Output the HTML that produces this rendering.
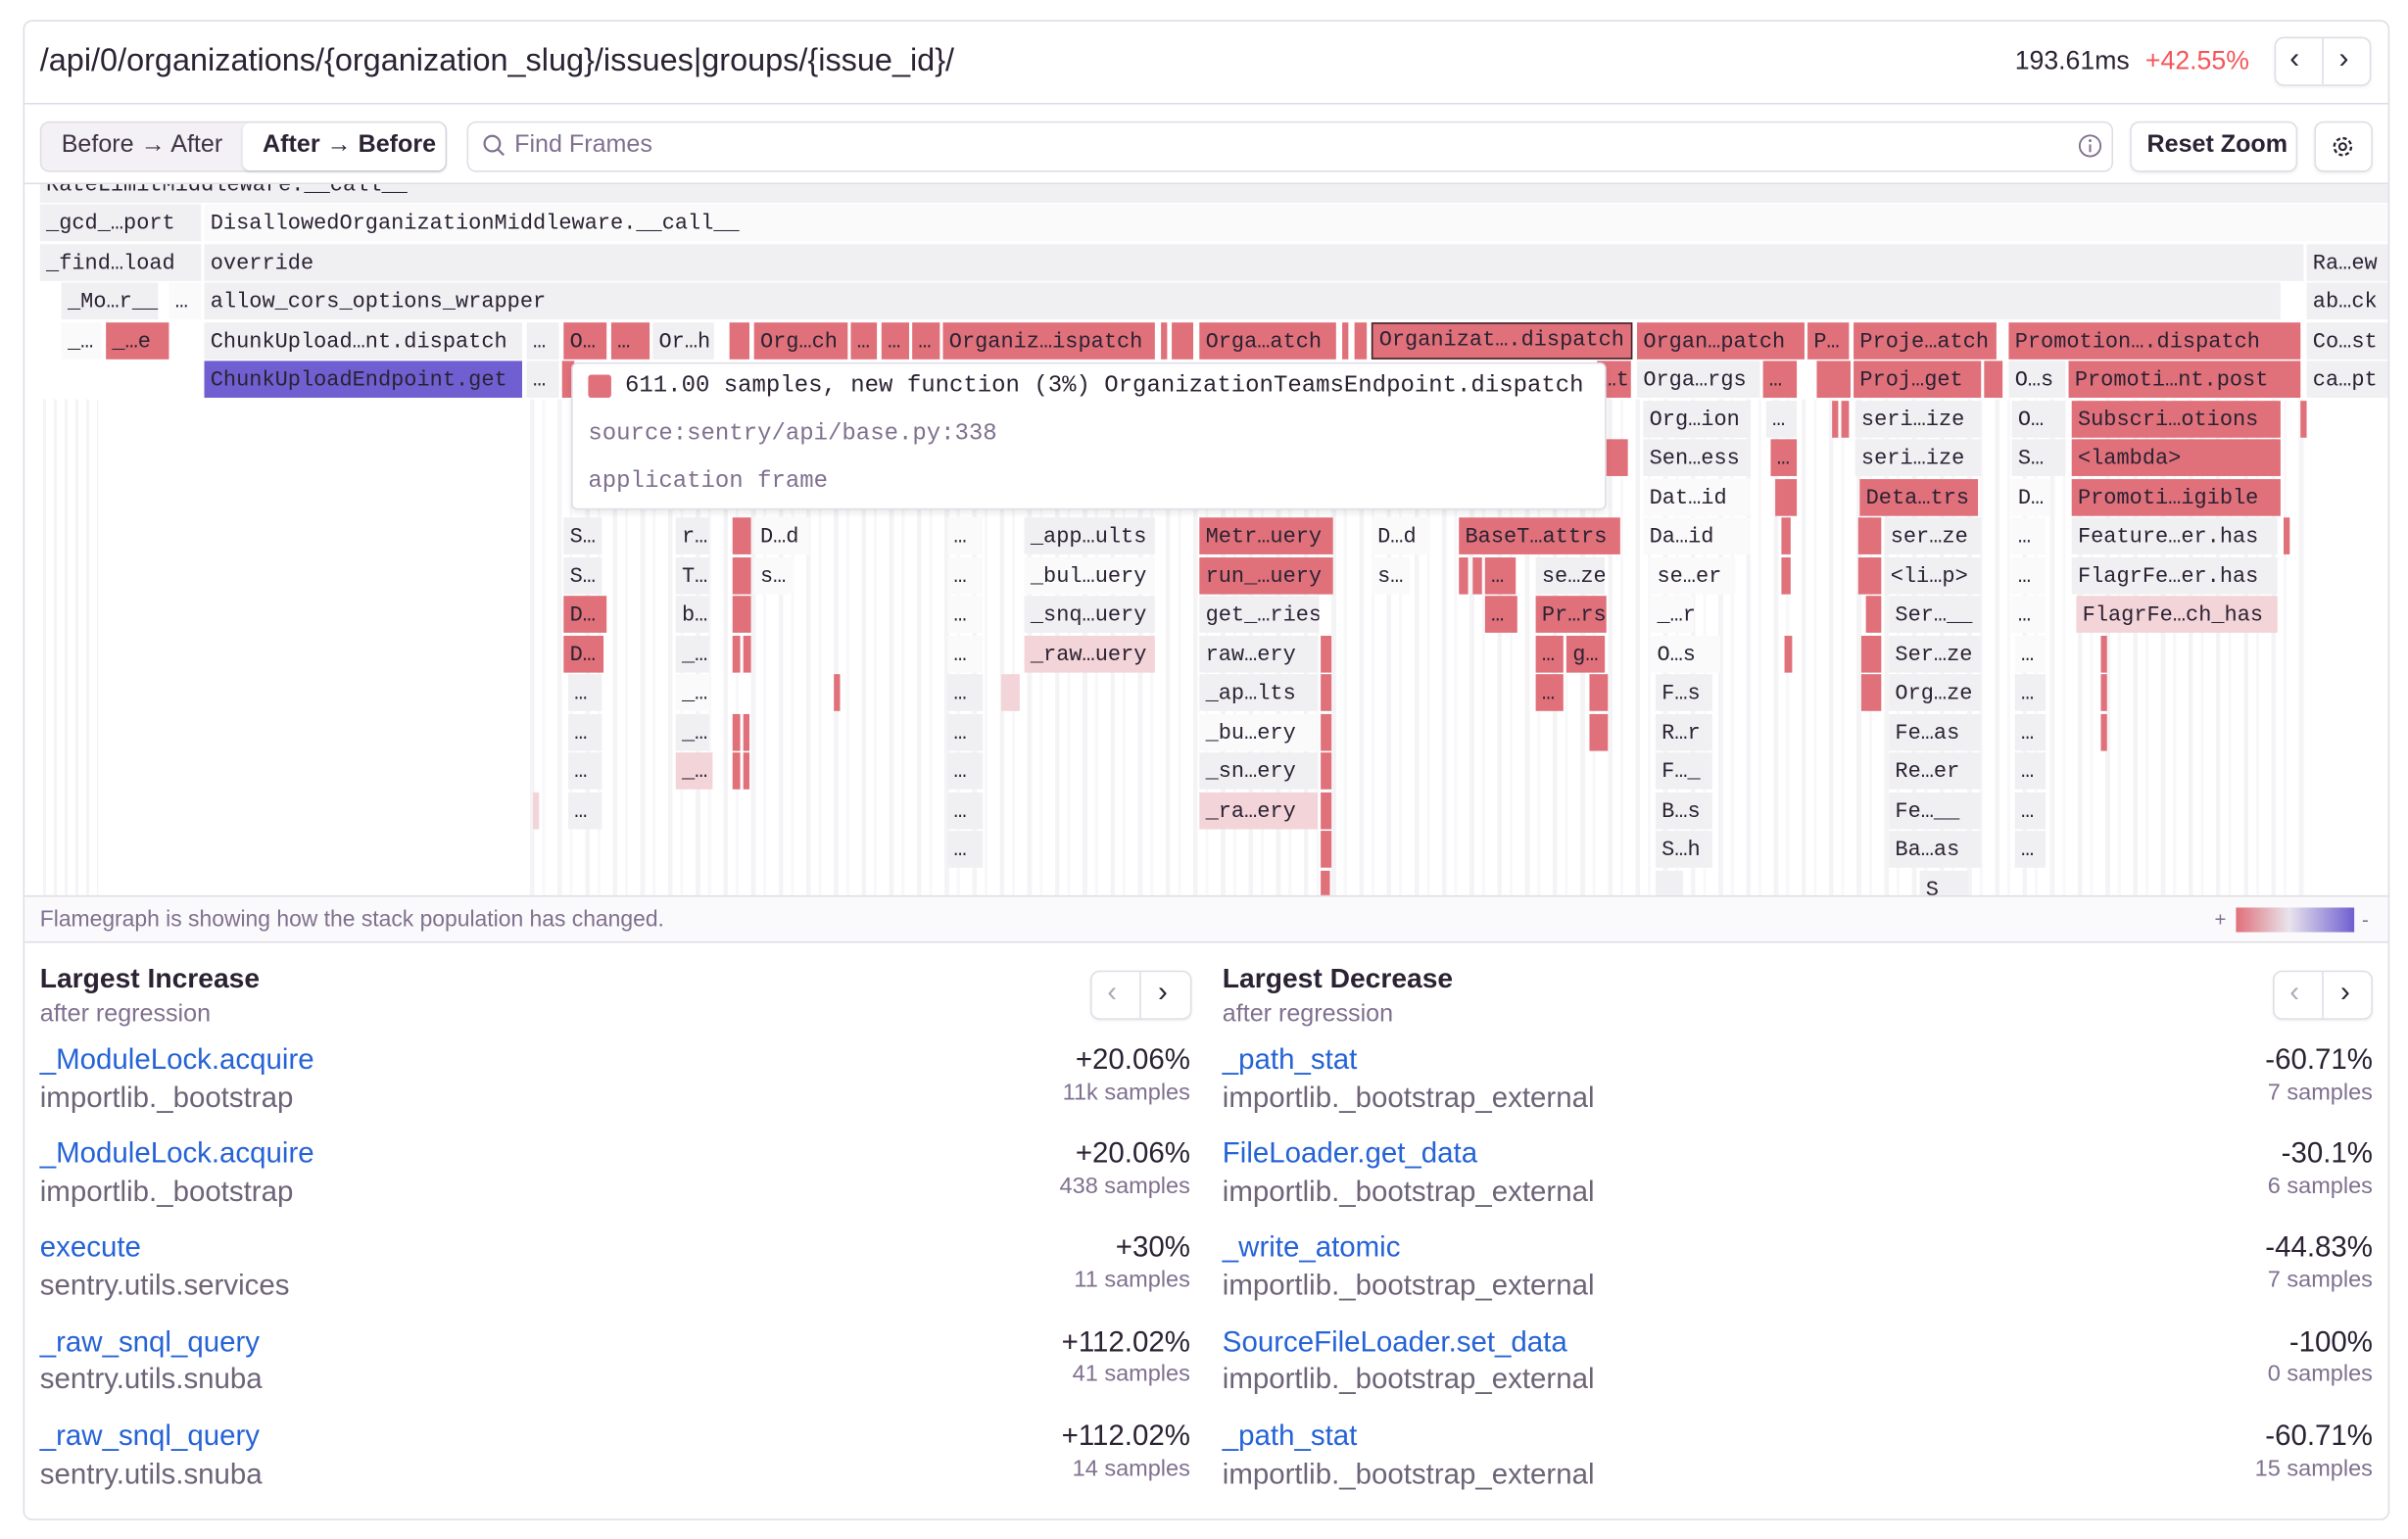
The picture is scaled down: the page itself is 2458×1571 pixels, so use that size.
<!DOCTYPE html>
<html><head><meta charset="utf-8">
<style>
*{margin:0;padding:0;box-sizing:border-box}
body{width:2458px;height:1570px;overflow:hidden;background:#fff;font-family:"Liberation Sans",sans-serif;color:#2b2233}
#s{position:absolute;left:0;top:0;width:1568px;height:1002px;transform:scale(1.5676);transform-origin:0 0}
.a{position:absolute}
.card{position:absolute;left:15px;top:13px;width:1541px;height:977px;border:1px solid #e0dce5;border-radius:6px;overflow:hidden}
.btn{position:absolute;border:1px solid #e0dce5;border-radius:6px;background:#fff;box-shadow:0 1px 2px rgba(0,0,0,.06)}
.fw{position:absolute;left:0;top:120px;width:1556px;height:463px;overflow:hidden}
.fi{position:absolute;left:0;top:-120px;width:1556px;height:600px}
.b{position:absolute;height:24px;font:14px "Liberation Mono",monospace;line-height:26px;color:#2b2233;padding-left:4px;overflow:hidden;white-space:nowrap}
.r{background:#e0707a}.g{background:#f0f0f3}.w{background:#fafafb}.p{background:#f3d4d8}.u{background:#6f5fd0}
.t{position:absolute;font-size:18.8px;white-space:nowrap}
.lk{color:#2563d6}.md{color:#6e6478}.sm{font-size:15px;color:#80708f}
</style></head><body><div id="s">
<div class="card"></div>
<!-- header -->
<div class="t" style="left:26px;top:28px;font-size:20.7px;color:#2b2233">/api/0/organizations/{organization_slug}/issues|groups/{issue_id}/</div>
<div class="t" style="left:1312px;top:30px;font-size:17px">193.61ms</div>
<div class="t" style="left:1397px;top:30px;font-size:17px;color:#f55459">+42.55%</div>
<div class="btn" style="left:1481px;top:24px;width:63px;height:32px"></div>
<div class="a" style="left:1512px;top:25px;width:1px;height:30px;background:#e0dce5"></div>
<div class="t" style="left:1491px;top:28px;font-size:19px">&#8249;</div>
<div class="t" style="left:1523px;top:28px;font-size:19px">&#8250;</div>
<div class="a" style="left:16px;top:67px;width:1539px;height:1px;background:#e0dce5"></div>
<!-- toolbar -->
<div class="a" style="left:26px;top:79px;width:265px;height:33px;border:1px solid #e0dce5;border-radius:6px;background:#f3f1f6"></div>
<div class="a" style="left:158px;top:80px;width:132px;height:31px;border-radius:5px;background:#fff;box-shadow:0 1px 2px rgba(0,0,0,.12)"></div>
<div class="t" style="left:40px;top:86px;font-size:16px;color:#3e3446">Before &#8594; After</div>
<div class="t" style="left:171px;top:86px;font-size:16px;font-weight:bold">After &#8594; Before</div>
<div class="a" style="left:304px;top:79px;width:1072px;height:33px;border:1px solid #e0dce5;border-radius:6px"></div>
<svg class="a" style="left:314px;top:87px" width="16" height="16"><circle cx="6.5" cy="6.5" r="5" fill="none" stroke="#80708f" stroke-width="1.4"/><line x1="10" y1="10" x2="14" y2="14" stroke="#80708f" stroke-width="1.4"/></svg>
<div class="t" style="left:335px;top:86px;font-size:16px;color:#80708f">Find Frames</div>
<svg class="a" style="left:1353px;top:87px" width="16" height="16"><circle cx="8" cy="8" r="6.8" fill="none" stroke="#80708f" stroke-width="1.2"/><line x1="8" y1="7" x2="8" y2="12" stroke="#80708f" stroke-width="1.3"/><circle cx="8" cy="4.6" r=".9" fill="#80708f"/></svg>
<div class="btn" style="left:1387px;top:79px;width:109px;height:33px"></div>
<div class="t" style="left:1398px;top:86px;font-size:16px;font-weight:bold">Reset Zoom</div>
<div class="btn" style="left:1507px;top:79px;width:38px;height:33px"></div>
<svg class="a" style="left:1517px;top:87px" width="17" height="17"><circle cx="8.5" cy="8.5" r="5.5" fill="none" stroke="#2b2233" stroke-width="1.5" stroke-dasharray="2.6 1.7"/><circle cx="8.5" cy="8.5" r="2.2" fill="none" stroke="#2b2233" stroke-width="1.3"/></svg>
<div class="a" style="left:16px;top:119px;width:1539px;height:1px;background:#e0dce5"></div>
<!-- flamegraph -->
<div class="fw"><div class="fi">
<div class="a" style="left:345px;top:260px;width:1160px;height:323px;background:repeating-linear-gradient(90deg,#f4f4f6 0 3px,#fff 3px 8px,#f8f8fa 8px 10px,#fff 10px 18px)"></div>
<div class="a" style="left:28px;top:260px;width:36px;height:323px;background:repeating-linear-gradient(90deg,#f4f4f6 0 2px,#fff 2px 7px)"></div>
<div class="b g" style="left:26px;top:107.5px;width:1529px">RateLimitMiddleware.__call__</div>
<div class="b g" style="left:26px;top:133px;width:105px">_gcd_…port</div>
<div class="b w" style="left:133px;top:133px;width:1422px">DisallowedOrganizationMiddleware.__call__</div>
<div class="b g" style="left:26px;top:158.5px;width:105px">_find…load</div>
<div class="b g" style="left:133px;top:158.5px;width:1367px">override</div>
<div class="b g" style="left:1502px;top:158.5px;width:53px">Ra…ew</div>
<div class="b g" style="left:40px;top:184px;width:63px">_Mo…r__</div>
<div class="b w" style="left:110px;top:184px;width:21px">…</div>
<div class="b g" style="left:133px;top:184px;width:1352px">allow_cors_options_wrapper</div>
<div class="b g" style="left:1502px;top:184px;width:53px">ab…ck</div>
<!-- row 3 -->
<div class="b w" style="left:40px;top:209.5px;width:26px">_…</div>
<div class="b r" style="left:69px;top:209.5px;width:41px">_…e</div>
<div class="b g" style="left:133px;top:209.5px;width:207px">ChunkUpload…nt.dispatch</div>
<div class="b g" style="left:343px;top:209.5px;width:21px">…</div>
<div class="b r" style="left:367px;top:209.5px;width:28px">O…</div>
<div class="b r" style="left:398px;top:209.5px;width:25px">…</div>
<div class="b g" style="left:425px;top:209.5px;width:40px">Or…h</div>
<div class="b r" style="left:475px;top:209.5px;width:13px"></div>
<div class="b r" style="left:491px;top:209.5px;width:61px">Org…ch</div>
<div class="b r" style="left:554px;top:209.5px;width:17px">…</div>
<div class="b r" style="left:574px;top:209.5px;width:18px">…</div>
<div class="b r" style="left:594px;top:209.5px;width:18px">…</div>
<div class="b r" style="left:614px;top:209.5px;width:138px">Organiz…ispatch</div>
<div class="b r" style="left:756px;top:209.5px;width:4px"></div><div class="b r" style="left:763px;top:209.5px;width:14px"></div>
<div class="b r" style="left:781px;top:209.5px;width:89px">Orga…atch</div>
<div class="b r" style="left:874px;top:209.5px;width:4px"></div><div class="b r" style="left:882px;top:209.5px;width:8px"></div>
<div class="b r" style="left:893px;top:209.5px;width:170px;border:1.5px solid #3a2328;line-height:23px">Organizat….dispatch</div>
<div class="b r" style="left:1066px;top:209.5px;width:109px">Organ…patch</div>
<div class="b r" style="left:1177px;top:209.5px;width:27px">P…</div>
<div class="b r" style="left:1207px;top:209.5px;width:93px">Proje…atch</div>
<div class="b r" style="left:1308px;top:209.5px;width:190px">Promotion….dispatch</div>
<div class="b g" style="left:1502px;top:209.5px;width:53px">Co…st</div>
<!-- row 4 -->
<div class="b u" style="left:133px;top:235px;width:207px">ChunkUploadEndpoint.get</div>
<div class="b g" style="left:343px;top:235px;width:21px">…</div>
<div class="b r" style="left:366px;top:235px;width:8px"></div>
<div class="b r" style="left:1040px;top:235px;width:22px">…t</div>
<div class="b g" style="left:1066px;top:235px;width:80px">Orga…rgs</div>
<div class="b r" style="left:1148px;top:235px;width:22px">…</div>
<div class="b r" style="left:1183px;top:235px;width:22px"></div>
<div class="b r" style="left:1207px;top:235px;width:83px">Proj…get</div>
<div class="b r" style="left:1292px;top:235px;width:12px"></div>
<div class="b g" style="left:1308px;top:235px;width:37px">O…s</div>
<div class="b r" style="left:1347px;top:235px;width:151px">Promoti…nt.post</div>
<div class="b g" style="left:1502px;top:235px;width:53px">ca…pt</div>
<!-- row 5-7 -->
<div class="b g" style="left:1070px;top:260.5px;width:70px">Org…ion</div>
<div class="b g" style="left:1150px;top:260.5px;width:20px">…</div>
<div class="b r" style="left:1193px;top:260.5px;width:4px"></div><div class="b r" style="left:1199px;top:260.5px;width:5px"></div>
<div class="b g" style="left:1208px;top:260.5px;width:82px">seri…ize</div>
<div class="b g" style="left:1310px;top:260.5px;width:35px">O…</div>
<div class="b r" style="left:1349px;top:260.5px;width:136px">Subscri…otions</div>
<div class="b r" style="left:1498px;top:260.5px;width:3px"></div>
<div class="b r" style="left:1046px;top:286px;width:14px"></div>
<div class="b g" style="left:1070px;top:286px;width:70px">Sen…ess</div>
<div class="b r" style="left:1153px;top:286px;width:17px">…</div>
<div class="b g" style="left:1208px;top:286px;width:82px">seri…ize</div>
<div class="b g" style="left:1310px;top:286px;width:35px">S…</div>
<div class="b r" style="left:1349px;top:286px;width:136px">&lt;lambda&gt;</div>
<div class="b w" style="left:1070px;top:311.5px;width:70px">Dat…id</div>
<div class="b r" style="left:1156px;top:311.5px;width:14px"></div>
<div class="b r" style="left:1211px;top:311.5px;width:77px">Deta…trs</div>
<div class="b w" style="left:1310px;top:311.5px;width:25px">D…</div>
<div class="b r" style="left:1349px;top:311.5px;width:136px">Promoti…igible</div>
<!-- row 8 -->
<div class="b g" style="left:367px;top:337px;width:25px">S…</div>
<div class="b g" style="left:440px;top:337px;width:22px">r…</div>
<div class="b r" style="left:477px;top:337px;width:12px"></div>
<div class="b w" style="left:491px;top:337px;width:36px">D…d</div>
<div class="b w" style="left:617px;top:337px;width:23px">…</div>
<div class="b g" style="left:667px;top:337px;width:85px">_app…ults</div>
<div class="b r" style="left:781px;top:337px;width:87px">Metr…uery</div>
<div class="b w" style="left:893px;top:337px;width:37px">D…d</div>
<div class="b r" style="left:950px;top:337px;width:105px">BaseT…attrs</div>
<div class="b w" style="left:1070px;top:337px;width:70px">Da…id</div>
<div class="b r" style="left:1160px;top:337px;width:6px"></div>
<div class="b r" style="left:1210px;top:337px;width:15px"></div>
<div class="b g" style="left:1227px;top:337px;width:63px">ser…ze</div>
<div class="b w" style="left:1310px;top:337px;width:22px">…</div>
<div class="b g" style="left:1349px;top:337px;width:134px">Feature…er.has</div>
<div class="b r" style="left:1487px;top:337px;width:3px"></div>
<!-- row 9 -->
<div class="b g" style="left:367px;top:362.5px;width:25px">S…</div>
<div class="b g" style="left:440px;top:362.5px;width:22px">T…</div>
<div class="b r" style="left:477px;top:362.5px;width:12px"></div>
<div class="b w" style="left:491px;top:362.5px;width:26px">s…</div>
<div class="b w" style="left:617px;top:362.5px;width:23px">…</div>
<div class="b w" style="left:667px;top:362.5px;width:85px">_bul…uery</div>
<div class="b r" style="left:781px;top:362.5px;width:87px">run_…uery</div>
<div class="b w" style="left:893px;top:362.5px;width:25px">s…</div>
<div class="b r" style="left:950px;top:362.5px;width:6px"></div><div class="b r" style="left:959px;top:362.5px;width:6px"></div>
<div class="b r" style="left:967px;top:362.5px;width:20px">…</div>
<div class="b g" style="left:1000px;top:362.5px;width:45px">se…ze</div>
<div class="b w" style="left:1075px;top:362.5px;width:55px">se…er</div>
<div class="b r" style="left:1160px;top:362.5px;width:6px"></div>
<div class="b r" style="left:1210px;top:362.5px;width:15px"></div>
<div class="b g" style="left:1227px;top:362.5px;width:63px">&lt;li…p&gt;</div>
<div class="b w" style="left:1310px;top:362.5px;width:22px">…</div>
<div class="b g" style="left:1349px;top:362.5px;width:134px">FlagrFe…er.has</div>
<!-- row 10 -->
<div class="b r" style="left:367px;top:388px;width:28px">D…</div>
<div class="b g" style="left:440px;top:388px;width:22px">b…</div>
<div class="b r" style="left:477px;top:388px;width:12px"></div>
<div class="b w" style="left:617px;top:388px;width:23px">…</div>
<div class="b g" style="left:667px;top:388px;width:85px">_snq…uery</div>
<div class="b g" style="left:781px;top:388px;width:78px">get_…ries</div>
<div class="b r" style="left:967px;top:388px;width:21px">…</div>
<div class="b r" style="left:1000px;top:388px;width:46px">Pr…rs</div>
<div class="b w" style="left:1075px;top:388px;width:28px">_…r</div>
<div class="b r" style="left:1215px;top:388px;width:10px"></div>
<div class="b g" style="left:1230px;top:388px;width:60px">Ser…__</div>
<div class="b w" style="left:1310px;top:388px;width:22px">…</div>
<div class="b p" style="left:1352px;top:388px;width:131px">FlagrFe…ch_has</div>
<!-- row 11 -->
<div class="b r" style="left:367px;top:413.5px;width:26px">D…</div>
<div class="b g" style="left:440px;top:413.5px;width:22px">_…</div>
<div class="b r" style="left:477px;top:413.5px;width:5px"></div><div class="b r" style="left:484px;top:413.5px;width:5px"></div>
<div class="b w" style="left:617px;top:413.5px;width:23px">…</div>
<div class="b p" style="left:667px;top:413.5px;width:85px">_raw…uery</div>
<div class="b g" style="left:781px;top:413.5px;width:77px">raw…ery</div>
<div class="b r" style="left:860px;top:413.5px;width:7px"></div>
<div class="b r" style="left:1000px;top:413.5px;width:18px">…</div>
<div class="b r" style="left:1020px;top:413.5px;width:25px">g…</div>
<div class="b w" style="left:1075px;top:413.5px;width:45px">O…s</div>
<div class="b r" style="left:1162px;top:413.5px;width:5px"></div>
<div class="b r" style="left:1212px;top:413.5px;width:13px"></div>
<div class="b g" style="left:1230px;top:413.5px;width:60px">Ser…ze</div>
<div class="b w" style="left:1312px;top:413.5px;width:20px">…</div>
<div class="b r" style="left:1368px;top:413.5px;width:3px"></div>
<!-- row 12-17 -->
<div class="b g" style="left:370px;top:439px;width:22px">…</div>
<div class="b w" style="left:440px;top:439px;width:22px">_…</div>
<div class="b r" style="left:543px;top:439px;width:4px"></div>
<div class="b g" style="left:617px;top:439px;width:23px">…</div>
<div class="b p" style="left:652px;top:439px;width:12px"></div>
<div class="b g" style="left:781px;top:439px;width:77px">_ap…lts</div>
<div class="b r" style="left:860px;top:439px;width:7px"></div>
<div class="b r" style="left:1000px;top:439px;width:18px">…</div>
<div class="b r" style="left:1035px;top:439px;width:12px"></div>
<div class="b g" style="left:1078px;top:439px;width:37px">F…s</div>
<div class="b r" style="left:1212px;top:439px;width:13px"></div>
<div class="b g" style="left:1230px;top:439px;width:60px">Org…ze</div>
<div class="b g" style="left:1312px;top:439px;width:20px">…</div>
<div class="b r" style="left:1368px;top:439px;width:3px"></div>
<div class="b g" style="left:370px;top:464.5px;width:22px">…</div>
<div class="b g" style="left:440px;top:464.5px;width:22px">_…</div>
<div class="b r" style="left:477px;top:464.5px;width:5px"></div><div class="b r" style="left:484px;top:464.5px;width:4px"></div>
<div class="b g" style="left:617px;top:464.5px;width:23px">…</div>
<div class="b w" style="left:781px;top:464.5px;width:77px">_bu…ery</div>
<div class="b r" style="left:860px;top:464.5px;width:7px"></div>
<div class="b r" style="left:1035px;top:464.5px;width:12px"></div>
<div class="b g" style="left:1078px;top:464.5px;width:37px">R…r</div>
<div class="b g" style="left:1230px;top:464.5px;width:60px">Fe…as</div>
<div class="b g" style="left:1312px;top:464.5px;width:20px">…</div>
<div class="b r" style="left:1368px;top:464.5px;width:3px"></div>
<div class="b g" style="left:370px;top:490px;width:22px">…</div>
<div class="b p" style="left:440px;top:490px;width:24px">_…</div>
<div class="b r" style="left:477px;top:490px;width:5px"></div><div class="b r" style="left:484px;top:490px;width:4px"></div>
<div class="b g" style="left:617px;top:490px;width:23px">…</div>
<div class="b g" style="left:781px;top:490px;width:77px">_sn…ery</div>
<div class="b r" style="left:860px;top:490px;width:7px"></div>
<div class="b g" style="left:1078px;top:490px;width:37px">F…_</div>
<div class="b g" style="left:1230px;top:490px;width:60px">Re…er</div>
<div class="b g" style="left:1312px;top:490px;width:20px">…</div>
<div class="b p" style="left:347px;top:515.5px;width:4px"></div>
<div class="b g" style="left:370px;top:515.5px;width:22px">…</div>
<div class="b g" style="left:617px;top:515.5px;width:23px">…</div>
<div class="b p" style="left:781px;top:515.5px;width:77px">_ra…ery</div>
<div class="b r" style="left:860px;top:515.5px;width:7px"></div>
<div class="b g" style="left:1078px;top:515.5px;width:37px">B…s</div>
<div class="b g" style="left:1230px;top:515.5px;width:60px">Fe…__</div>
<div class="b g" style="left:1312px;top:515.5px;width:20px">…</div>
<div class="b g" style="left:617px;top:541px;width:23px">…</div>
<div class="b r" style="left:860px;top:541px;width:7px"></div>
<div class="b g" style="left:1078px;top:541px;width:37px">S…h</div>
<div class="b g" style="left:1230px;top:541px;width:60px">Ba…as</div>
<div class="b g" style="left:1312px;top:541px;width:20px">…</div>
<div class="b g" style="left:1078px;top:566.5px;width:18px"></div>
<div class="b r" style="left:860px;top:566.5px;width:6px"></div>
<div class="b g" style="left:1250px;top:566.5px;width:32px">S</div>
<!-- tooltip -->
<div class="a" style="left:372px;top:236px;width:674px;height:96px;background:#fff;border:1px solid #e0dce5;border-radius:4px;box-shadow:0 2px 4px rgba(0,0,0,.08)"></div>
<div class="a" style="left:383px;top:244px;width:15px;height:15px;background:#e0707a;border-radius:2px"></div>
<div class="a" style="left:407px;top:242px;font:15.3px 'Liberation Mono',monospace;color:#2b2233;white-space:nowrap">611.00 samples, new function (3%) OrganizationTeamsEndpoint.dispatch</div>
<div class="a" style="left:383px;top:273px;font:15.3px 'Liberation Mono',monospace;color:#80708f;white-space:nowrap">source:sentry/api/base.py:338</div>
<div class="a" style="left:383px;top:304px;font:15.3px 'Liberation Mono',monospace;color:#80708f;white-space:nowrap">application frame</div>
</div></div>
<!-- footer bar -->
<div class="a" style="left:16px;top:583px;width:1539px;height:31px;background:#faf9fb;border-top:1px solid #e0dce5;border-bottom:1px solid #e0dce5"></div>
<div class="t" style="left:26px;top:591px;font-size:14.6px;color:#80708f">Flamegraph is showing how the stack population has changed.</div>
<div class="t" style="left:1442px;top:591px;font-size:13px;color:#80708f">+</div>
<div class="a" style="left:1456px;top:591px;width:77px;height:16px;background:linear-gradient(90deg,#e0707a,#e8e4ec 45%,#6f5fd0)"></div>
<div class="t" style="left:1538px;top:591px;font-size:13px;color:#80708f">-</div>
<!-- bottom lists -->
<div class="t" style="left:26px;top:627px;font-size:18px;font-weight:bold">Largest Increase</div>
<div class="t" style="left:26px;top:652px;font-size:16px;color:#80708f">after regression</div>
<div class="btn" style="left:710px;top:632px;width:66px;height:32px"></div>
<div class="a" style="left:742px;top:633px;width:1px;height:30px;background:#e0dce5"></div>
<div class="t" style="left:721px;top:635px;color:#b0a8b8">&#8249;</div><div class="t" style="left:754px;top:635px">&#8250;</div>
<div class="t" style="left:796px;top:627px;font-size:18px;font-weight:bold">Largest Decrease</div>
<div class="t" style="left:796px;top:652px;font-size:16px;color:#80708f">after regression</div>
<div class="btn" style="left:1480px;top:632px;width:65px;height:32px"></div>
<div class="a" style="left:1512px;top:633px;width:1px;height:30px;background:#e0dce5"></div>
<div class="t" style="left:1491px;top:635px;color:#b0a8b8">&#8249;</div><div class="t" style="left:1524px;top:635px">&#8250;</div>

<div class="t lk" style="left:26px;top:679px">_ModuleLock.acquire</div><div class="t md" style="left:26px;top:704px">importlib._bootstrap</div>
<div class="t" style="right:793px;top:679px">+20.06%</div><div class="t sm" style="right:793px;top:703px">11k samples</div>
<div class="t lk" style="left:26px;top:740px">_ModuleLock.acquire</div><div class="t md" style="left:26px;top:765px">importlib._bootstrap</div>
<div class="t" style="right:793px;top:740px">+20.06%</div><div class="t sm" style="right:793px;top:764px">438 samples</div>
<div class="t lk" style="left:26px;top:801px">execute</div><div class="t md" style="left:26px;top:826px">sentry.utils.services</div>
<div class="t" style="right:793px;top:801px">+30%</div><div class="t sm" style="right:793px;top:825px">11 samples</div>
<div class="t lk" style="left:26px;top:863px">_raw_snql_query</div><div class="t md" style="left:26px;top:887px">sentry.utils.snuba</div>
<div class="t" style="right:793px;top:863px">+112.02%</div><div class="t sm" style="right:793px;top:886px">41 samples</div>
<div class="t lk" style="left:26px;top:924px">_raw_snql_query</div><div class="t md" style="left:26px;top:949px">sentry.utils.snuba</div>
<div class="t" style="right:793px;top:924px">+112.02%</div><div class="t sm" style="right:793px;top:948px">14 samples</div>

<div class="t lk" style="left:796px;top:679px">_path_stat</div><div class="t md" style="left:796px;top:704px">importlib._bootstrap_external</div>
<div class="t" style="right:23px;top:679px">-60.71%</div><div class="t sm" style="right:23px;top:703px">7 samples</div>
<div class="t lk" style="left:796px;top:740px">FileLoader.get_data</div><div class="t md" style="left:796px;top:765px">importlib._bootstrap_external</div>
<div class="t" style="right:23px;top:740px">-30.1%</div><div class="t sm" style="right:23px;top:764px">6 samples</div>
<div class="t lk" style="left:796px;top:801px">_write_atomic</div><div class="t md" style="left:796px;top:826px">importlib._bootstrap_external</div>
<div class="t" style="right:23px;top:801px">-44.83%</div><div class="t sm" style="right:23px;top:825px">7 samples</div>
<div class="t lk" style="left:796px;top:863px">SourceFileLoader.set_data</div><div class="t md" style="left:796px;top:887px">importlib._bootstrap_external</div>
<div class="t" style="right:23px;top:863px">-100%</div><div class="t sm" style="right:23px;top:886px">0 samples</div>
<div class="t lk" style="left:796px;top:924px">_path_stat</div><div class="t md" style="left:796px;top:949px">importlib._bootstrap_external</div>
<div class="t" style="right:23px;top:924px">-60.71%</div><div class="t sm" style="right:23px;top:948px">15 samples</div>
</div></body></html>
